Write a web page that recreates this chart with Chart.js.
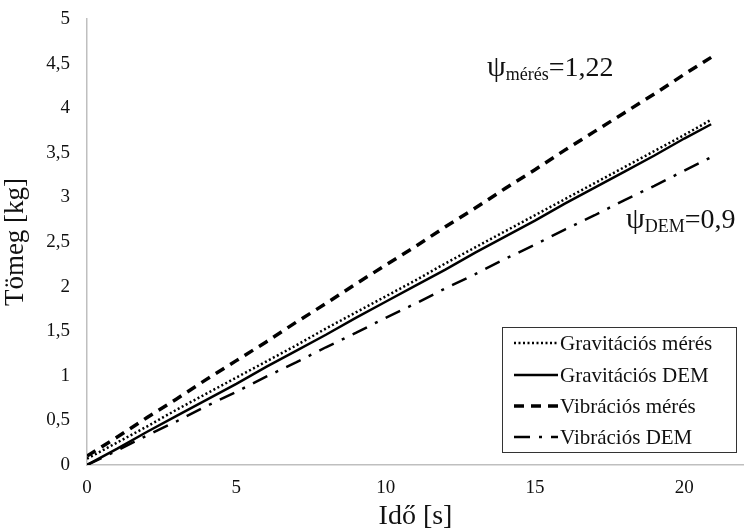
<!DOCTYPE html>
<html>
<head>
<meta charset="utf-8">
<script src="https://cdn.jsdelivr.net/npm/chart.js@4"></script>
<style>
  html, body { margin: 0; padding: 0; background: #fff; }
  #wrap { width: 744px; height: 529px; }
</style>
</head>
<body>
<div id="wrap"><canvas id="massChart" width="744" height="529"></canvas></div>
<script>
// time points [s]
const times = [0, 1, 2, 3, 4, 5, 6, 7, 8, 9, 10, 11, 12, 13, 14, 15, 16, 17, 18, 19, 20, 20.9];

// mass [kg]
const gravMeres = [0.07, 0.25, 0.43, 0.62, 0.80, 0.98, 1.16, 1.34, 1.53, 1.71, 1.89, 2.07, 2.26, 2.44, 2.62, 2.80, 2.98, 3.16, 3.34, 3.52, 3.70, 3.87];
const gravDem = [0.00, 0.18, 0.37, 0.55, 0.73, 0.91, 1.10, 1.28, 1.46, 1.65, 1.83, 2.01, 2.19, 2.38, 2.56, 2.74, 2.93, 3.11, 3.29, 3.47, 3.66, 3.82];
const vibrMeres = [0.10, 0.31, 0.53, 0.74, 0.96, 1.17, 1.38, 1.60, 1.81, 2.03, 2.24, 2.45, 2.67, 2.88, 3.10, 3.31, 3.53, 3.74, 3.95, 4.16, 4.38, 4.57];
const vibrDem = [0.00, 0.16, 0.33, 0.49, 0.66, 0.82, 0.99, 1.15, 1.32, 1.48, 1.65, 1.81, 1.98, 2.14, 2.31, 2.47, 2.64, 2.80, 2.97, 3.13, 3.30, 3.45];

const seriesNames = ['Gravitációs mérés', 'Gravitációs DEM', 'Vibrációs mérés', 'Vibrációs DEM'];
const xTicks = [0, 5, 10, 15, 20];

const serif = '"Liberation Serif", "DejaVu Serif", serif';

function pts(ys) {
    return ys.map((y, i) => ({ x: times[i], y: y }));
}

// legend box and psi labels drawn on top of the plot
const overlay = {
    id: 'overlay',
    afterDraw(chart) {
        const ctx = chart.ctx;
        ctx.save();

        // legend
        const bx = 502, by = 327, bw = 234, bh = 125;
        ctx.fillStyle = '#fff';
        ctx.fillRect(bx, by, bw, bh);
        ctx.strokeStyle = '#333';
        ctx.lineWidth = 1;
        ctx.strokeRect(bx + 0.5, by + 0.5, bw, bh);

        ctx.font = '21px ' + serif;
        ctx.textBaseline = 'middle';
        const rows = [343, 375, 406, 437];
        chart.data.datasets.forEach((ds, i) => {
            const y = rows[i];
            ctx.strokeStyle = '#000';
            ctx.lineWidth = ds.borderWidth;
            ctx.setLineDash(ds.borderDash || []);
            ctx.beginPath();
            ctx.moveTo(bx + 12, y);
            ctx.lineTo(bx + 56, y);
            ctx.stroke();
            ctx.setLineDash([]);
            ctx.fillStyle = '#111';
            ctx.fillText(ds.label, bx + 58, y + 1);
        });

        // psi labels
        const psi = (x, y, sub, val) => {
            ctx.fillStyle = '#111';
            ctx.textBaseline = 'alphabetic';
            ctx.font = '30px ' + serif;
            ctx.fillText('ψ', x, y);
            let w = ctx.measureText('ψ').width;
            ctx.font = '18px ' + serif;
            ctx.fillText(sub, x + w, y + 4);
            w += ctx.measureText(sub).width;
            ctx.font = '28px ' + serif;
            ctx.fillText(val, x + w, y);
        };
        psi(487, 76, 'mérés', '=1,22');
        psi(626, 228, 'DEM', '=0,9');

        ctx.restore();
    }
};

new Chart(document.getElementById('massChart'), {
    type: 'line',
    data: {
        datasets: [
            { label: seriesNames[0], data: pts(gravMeres), borderColor: '#000', borderWidth: 2.5, borderDash: [2, 2.5] },
            { label: seriesNames[1], data: pts(gravDem), borderColor: '#000', borderWidth: 2.5 },
            { label: seriesNames[2], data: pts(vibrMeres), borderColor: '#000', borderWidth: 3.5, borderDash: [10, 7] },
            { label: seriesNames[3], data: pts(vibrDem), borderColor: '#000', borderWidth: 2.5, borderDash: [16, 9, 3, 9] }
        ]
    },
    options: {
        responsive: false,
        animation: false,
        elements: { point: { radius: 0 }, line: { tension: 0, borderCapStyle: 'butt' } },
        layout: { padding: { top: 19, right: 0, bottom: 0, left: 0 } },
        plugins: { legend: { display: false }, tooltip: { enabled: false } },
        scales: {
            x: {
                type: 'linear',
                min: 0,
                max: 22,
                grid: { display: false, drawTicks: false },
                border: { color: '#bfbfbf', width: 1.5 },
                afterBuildTicks(axis) {
                    axis.ticks = xTicks.map(v => ({ value: v }));
                },
                afterFit(axis) {
                    axis.height = 64;
                    axis.paddingLeft = 0;
                    axis.paddingRight = 0;
                },
                ticks: {
                    color: '#111',
                    font: { family: serif, size: 19 },
                    padding: 12,
                    maxRotation: 0
                },
                title: {
                    display: true,
                    text: 'Idő [s]',
                    color: '#111',
                    font: { family: serif, size: 28 },
                    padding: { top: 0, bottom: -4 }
                }
            },
            y: {
                min: 0,
                max: 5,
                grid: { display: false, drawTicks: false },
                border: { color: '#bfbfbf', width: 1.5 },
                afterFit(axis) {
                    axis.width = 87;
                    axis.paddingTop = 0;
                    axis.paddingBottom = 0;
                },
                ticks: {
                    stepSize: 0.5,
                    color: '#111',
                    font: { family: serif, size: 19 },
                    padding: 17,
                    callback: v => String(v).replace('.', ',')
                },
                title: {
                    display: true,
                    text: 'Tömeg [kg]',
                    color: '#111',
                    font: { family: serif, size: 27 },
                    padding: { top: 0, bottom: 0 }
                }
            }
        }
    },
    plugins: [overlay]
});
</script>
</body>
</html>
